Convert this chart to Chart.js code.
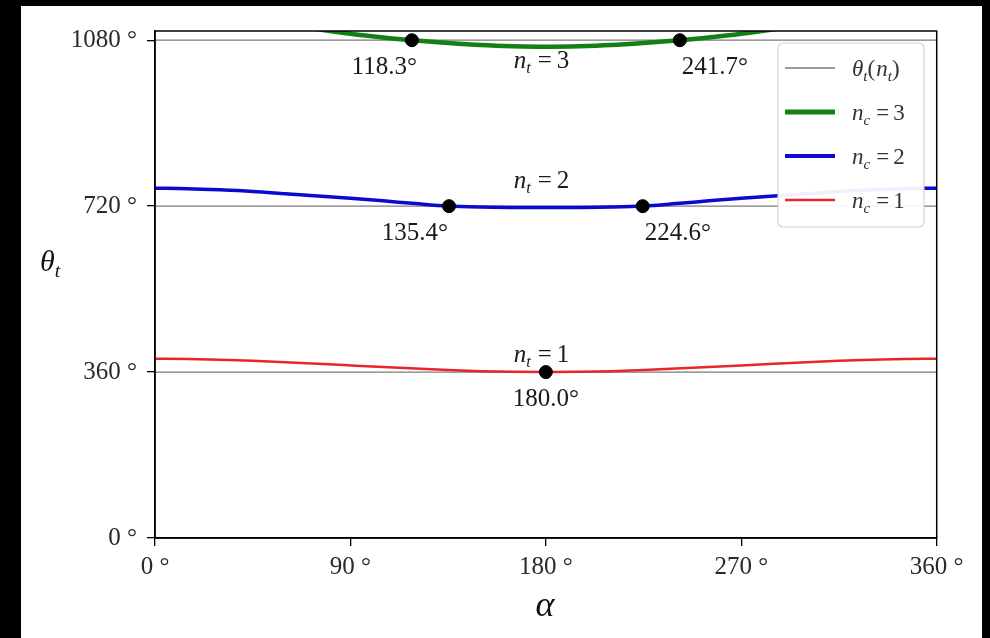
<!DOCTYPE html>
<html>
<head>
<meta charset="utf-8">
<script src="https://cdn.jsdelivr.net/npm/chart.js@4.4.1/dist/chart.umd.min.js"></script>
<style>
  html, body { margin: 0; padding: 0; background: #000; width: 990px; height: 638px; overflow: hidden; }
  #panel { position: absolute; left: 21px; top: 6px; width: 961px; height: 632px; background: #fff; }
  canvas { display: block; }
</style>
</head>
<body>
<div id="panel"><canvas id="c" width="961" height="632"></canvas></div>
<script>
// ---- data ----
const alphaDeg = [0, 15, 30, 45, 60, 75, 90, 105, 120, 135, 150, 165, 180,
                  195, 210, 225, 240, 255, 270, 285, 300, 315, 330, 345, 360];
const thetaNc1 = [389, 388.5, 387, 384.5, 381.5, 378, 374.5, 371, 367.5, 364.5, 362, 360.5, 360,
                  360.5, 362, 364.5, 367.5, 371, 374.5, 378, 381.5, 384.5, 387, 388.5, 389];
const thetaNc2 = [759, 758, 755.5, 752, 747, 742, 737, 731.5, 725.5, 720.2, 718, 717.2, 717,
                  717.2, 718, 720.2, 725.5, 731.5, 737, 742, 747, 752, 755.5, 758, 759];
const thetaNc3 = [1140, 1138, 1132, 1125, 1115, 1104, 1094, 1086, 1079.5, 1074, 1069.5, 1067, 1066,
                  1067, 1069.5, 1074, 1079.5, 1086, 1094, 1104, 1115, 1125, 1132, 1138, 1140];
const thetaLevels = [360, 720, 1080];
const levelAlphaRange = [0, 360];
const markAlpha = [118.3, 241.7, 135.4, 224.6, 180.0];
const markTheta = [1080, 1080, 720, 720, 360];
const xTickValues = [0, 90, 180, 270, 360];
const yTickValues = [0, 360, 720, 1080];
const ntValues = [3, 2, 1];

// ---- helpers ----
const FONT = '"Liberation Serif", "DejaVu Serif", serif';
const COLORS = { level: '#7a7a7a', nc3: '#128012', nc2: '#0b0bd0', nc1: '#e8262a' };
function pts(xs, ys) { return xs.map((x, i) => ({ x: x, y: ys[i] })); }

function richWidth(ctx, parts, size) {
  let w = 0;
  for (const p of parts) {
    const s = p.sub ? size * 0.66 : size;
    ctx.font = (p.it ? 'italic ' : '') + s + 'px ' + FONT;
    w += ctx.measureText(p.t).width + (p.gap || 0);
  }
  return w;
}
function drawRich(ctx, parts, x, y, align, size, color) {
  const w = richWidth(ctx, parts, size);
  let cx = align === 'center' ? x - w / 2 : (align === 'right' ? x - w : x);
  ctx.save();
  ctx.fillStyle = color || '#111';
  ctx.textAlign = 'left';
  ctx.textBaseline = 'alphabetic';
  for (const p of parts) {
    const s = p.sub ? size * 0.66 : size;
    ctx.font = (p.it ? 'italic ' : '') + s + 'px ' + FONT;
    ctx.fillText(p.t, cx, y + (p.sub ? size * 0.2 : 0));
    cx += ctx.measureText(p.t).width + (p.gap || 0);
  }
  ctx.restore();
}

const levelDatasets = thetaLevels.map((L, i) => ({
  label: i === 0 ? 'θt(nt)' : '',
  data: pts(levelAlphaRange, levelAlphaRange.map(() => L)),
  borderColor: COLORS.level,
  borderWidth: 1.3,
  pointRadius: 0,
  order: 10
}));

const overlay = {
  id: 'overlay',
  afterDraw(chart) {
    const ctx = chart.ctx;
    const a = chart.chartArea;
    const xs = chart.scales.x, ys = chart.scales.y;

    // frame (top/right spines too)
    ctx.save();
    ctx.strokeStyle = '#000';
    ctx.lineWidth = 1.5;
    ctx.strokeRect(a.left, a.top, a.right - a.left, a.bottom - a.top);
    ctx.restore();

    // marker labels
    const aligns = ['right', 'left', 'right', 'left', 'center'];
    const dx = [5, 2, -1, 2, 0];
    markAlpha.forEach((al, i) => {
      const px = xs.getPixelForValue(al), py = ys.getPixelForValue(markTheta[i]);
      drawRich(ctx, [{ t: al.toFixed(1) + '°' }], px + dx[i], py + 34, aligns[i], 25, '#1a1a1a');
    });

    // n_t labels
    const ntOffsets = [28, -18, -10];
    ntValues.forEach((n, i) => {
      const px = xs.getPixelForValue(178);
      const py = ys.getPixelForValue(n * 360) + ntOffsets[i];
      drawRich(ctx, [{ t: 'n', it: true }, { t: 't', it: true, sub: true, gap: 7 }, { t: '=', gap: 5 }, { t: String(n) }],
        px, py, 'center', 25, '#1a1a1a');
    });

    // legend
    const bx = 757, by = 37, bw = 146, bh = 184;
    ctx.save();
    ctx.beginPath();
    ctx.roundRect(bx, by, bw, bh, 5);
    ctx.fillStyle = 'rgba(255,255,255,0.94)';
    ctx.fill();
    ctx.strokeStyle = '#d4d4d4';
    ctx.lineWidth = 1.2;
    ctx.stroke();
    ctx.restore();
    const nc = n => [{ t: 'n', it: true }, { t: 'c', it: true, sub: true, gap: 6 }, { t: '=', gap: 4 }, { t: String(n) }];
    const rows = [
      { color: COLORS.level, w: 1.3, parts: [{ t: 'θ', it: true }, { t: 't', it: true, sub: true }, { t: '(', gap: 1 }, { t: 'n', it: true }, { t: 't', it: true, sub: true }, { t: ')' }] },
      { color: COLORS.nc3, w: 5, parts: nc(3) },
      { color: COLORS.nc2, w: 4, parts: nc(2) },
      { color: COLORS.nc1, w: 2.5, parts: nc(1) }
    ];
    rows.forEach((r, i) => {
      const cy = 62 + i * 44;
      ctx.save();
      ctx.strokeStyle = r.color;
      ctx.lineWidth = r.w;
      ctx.beginPath();
      ctx.moveTo(764, cy);
      ctx.lineTo(814, cy);
      ctx.stroke();
      ctx.restore();
      drawRich(ctx, r.parts, 831, cy + 8, 'left', 23, '#333');
    });

    // axis titles
    drawRich(ctx, [{ t: 'θ', it: true }, { t: 't', it: true, sub: true }], 19, 265, 'left', 30, '#111');
    drawRich(ctx, [{ t: 'α', it: true }], xs.getPixelForValue(180) - 1, 610, 'center', 36, '#111');
  }
};

new Chart(document.getElementById('c'), {
  type: 'line',
  data: {
    datasets: [
      {
        label: 'markers',
        type: 'scatter',
        data: pts(markAlpha, markTheta),
        backgroundColor: '#000',
        borderColor: '#000',
        pointRadius: 6.5,
        pointHoverRadius: 6.5,
        showLine: false,
        order: 0
      },
      ...levelDatasets,
      { label: 'nc=3', data: pts(alphaDeg, thetaNc3), borderColor: COLORS.nc3, borderWidth: 4.5, pointRadius: 0, cubicInterpolationMode: 'monotone', order: 3 },
      { label: 'nc=2', data: pts(alphaDeg, thetaNc2), borderColor: COLORS.nc2, borderWidth: 3.5, pointRadius: 0, cubicInterpolationMode: 'monotone', order: 2 },
      { label: 'nc=1', data: pts(alphaDeg, thetaNc1), borderColor: COLORS.nc1, borderWidth: 2.5, pointRadius: 0, cubicInterpolationMode: 'monotone', order: 1 }
    ]
  },
  options: {
    responsive: false,
    animation: false,
    devicePixelRatio: 1,
    layout: { padding: { left: 0, top: 24, right: 45.3, bottom: 0 } },
    plugins: { legend: { display: false }, tooltip: { enabled: false } },
    scales: {
      x: {
        type: 'linear',
        min: 0, max: 360,
        afterBuildTicks: s => { s.ticks = xTickValues.map(v => ({ value: v })); },
        afterFit: s => { s.height = 100; },
        ticks: {
          callback: v => v + ' °',
          font: { family: FONT, size: 25 },
          color: '#2a2a2a',
          padding: 6,
          maxRotation: 0,
          autoSkip: false
        },
        grid: { display: true, drawOnChartArea: false, drawTicks: true, tickLength: 8, color: '#000', lineWidth: 1.3 },
        border: { display: true, color: '#000', width: 1.5 }
      },
      y: {
        type: 'linear',
        min: 0, max: 1100,
        afterBuildTicks: s => { s.ticks = yTickValues.map(v => ({ value: v })); },
        afterFit: s => { s.width = 134; },
        ticks: {
          callback: v => v + ' °',
          font: { family: FONT, size: 25 },
          color: '#2a2a2a',
          padding: 10,
          autoSkip: false
        },
        grid: { display: true, drawOnChartArea: false, drawTicks: true, tickLength: 8, color: '#000', lineWidth: 1.3 },
        border: { display: true, color: '#000', width: 1.5 }
      }
    }
  },
  plugins: [overlay]
});
</script>
</body>
</html>
